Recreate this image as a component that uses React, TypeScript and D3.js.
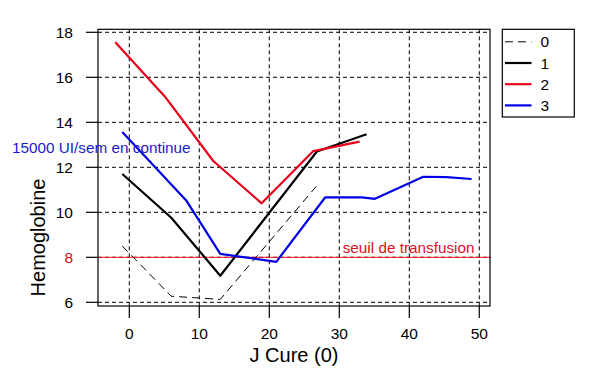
import React from "react";
import * as d3 from "d3";

const xTicks = [0, 10, 20, 30, 40, 50];
const yTicks = [6, 8, 10, 12, 14, 16, 18];

const s0x = [-1, 6, 13, 26.7];
const s0y = [8.5, 6.27, 6.13, 11.15];
const s1x = [-1, 6, 13, 26.8, 33.9];
const s1y = [11.7, 9.76, 7.18, 12.7, 13.47];
const s2x = [-2, 5.1, 12, 18.9, 26.3, 32.9];
const s2y = [17.56, 15.14, 12.28, 10.4, 12.72, 13.14];
const s3x = [-1, 8.2, 13, 21, 28, 33.2, 35.1, 42, 45.3, 48.9];
const s3y = [13.57, 10.5, 8.15, 7.8, 10.67, 10.66, 10.6, 11.58, 11.56, 11.48];

const legendLabels = ["0", "1", "2", "3"];
const threshold = 8;

const W = 604;
const H = 382;

export default function App() {
  const x = d3.scaleLinear().domain([-4.47, 51.53]).range([98, 490]);
  const y = d3.scaleLinear().domain([5.836, 18.133]).range([306, 29.3]);
  const line = d3
    .line<[number, number]>()
    .x((d) => x(d[0]))
    .y((d) => y(d[1]));
  const zip = (a: number[], b: number[]) => a.map((v, i) => [v, b[i]] as [number, number]);

  const series = [
    { pts: zip(s0x, s0y), color: "#000", w: 1, dash: "8,5" },
    { pts: zip(s1x, s1y), color: "#000", w: 2.2, dash: undefined },
    { pts: zip(s2x, s2y), color: "#e8001a", w: 2.2, dash: undefined },
    { pts: zip(s3x, s3y), color: "#0000e6", w: 2.2, dash: undefined },
  ];

  const font = "'Liberation Sans', Arial, sans-serif";

  return (
    <svg
      width={W}
      height={H}
      style={{ position: "absolute", left: 0, top: 0, background: "#fff" }}
      fontFamily={font}
    >
      <rect width={W} height={H} fill="#fff" />
      {/* grid */}
      {xTicks.map((t) => (
        <line key={"gx" + t} x1={x(t)} x2={x(t)} y1={29.3} y2={306} stroke="#000" strokeWidth={1} strokeDasharray="4,3" />
      ))}
      {yTicks.map((t) => (
        <line key={"gy" + t} x1={98} x2={490} y1={y(t)} y2={y(t)} stroke="#000" strokeWidth={1} strokeDasharray="4,3" />
      ))}
      {/* threshold */}
      <line x1={98} x2={491} y1={y(threshold)} y2={y(threshold)} stroke="#ff1020" strokeWidth={1} />
      {/* series */}
      {series.map((s, i) => (
        <path
          key={i}
          d={line(s.pts) || ""}
          fill="none"
          stroke={s.color}
          strokeWidth={s.w}
          strokeDasharray={s.dash}
          strokeLinejoin="round"
        />
      ))}
      {/* box */}
      <rect x={98} y={29.3} width={392} height={276.7} fill="none" stroke="#000" strokeWidth={1.2} />
      {/* y axis ticks */}
      {yTicks.map((t) => (
        <g key={"yt" + t}>
          <line x1={86} x2={98} y1={y(t)} y2={y(t)} stroke="#000" strokeWidth={1.2} />
          <text x={73} y={y(t) + 5.5} textAnchor="end" fontSize={15.5} fill={t === threshold ? "#d01020" : "#000"}>
            {t}
          </text>
        </g>
      ))}
      {/* x axis ticks */}
      {xTicks.map((t) => (
        <g key={"xt" + t}>
          <line x1={x(t)} x2={x(t)} y1={306} y2={318} stroke="#000" strokeWidth={1.2} />
          <text x={x(t)} y={338.5} textAnchor="middle" fontSize={15.5} fill="#000">
            {t}
          </text>
        </g>
      ))}
      {/* axis titles */}
      <text x={294} y={362} textAnchor="middle" fontSize={20} fill="#000">
        J Cure (0)
      </text>
      <text
        transform={`translate(45,237.5) rotate(-90)`}
        textAnchor="middle"
        fontSize={20}
        fill="#000"
      >
        Hemoglobine
      </text>
      {/* annotations */}
      <text x={12} y={153} fontSize={15.3} fill="#1a1acc">
        15000 UI/sem en continue
      </text>
      <text x={474.5} y={253} textAnchor="end" fontSize={15.3} fill="#e01020">
        seuil de transfusion
      </text>
      {/* legend */}
      <rect x={502.3} y={29.3} width={72} height={87.7} fill="#fff" stroke="#000" strokeWidth={1.2} />
      {legendLabels.map((lab, i) => {
        const ly = 41.8 + i * 21.2;
        const s = series[i];
        return (
          <g key={"lg" + lab}>
            <line x1={505} x2={531.5} y1={ly} y2={ly} stroke={s.color} strokeWidth={s.w} strokeDasharray={s.dash ? "8,5" : undefined} />
            <text x={540.5} y={ly + 5.5} fontSize={15.5} fill="#000">
              {lab}
            </text>
          </g>
        );
      })}
    </svg>
  );
}
